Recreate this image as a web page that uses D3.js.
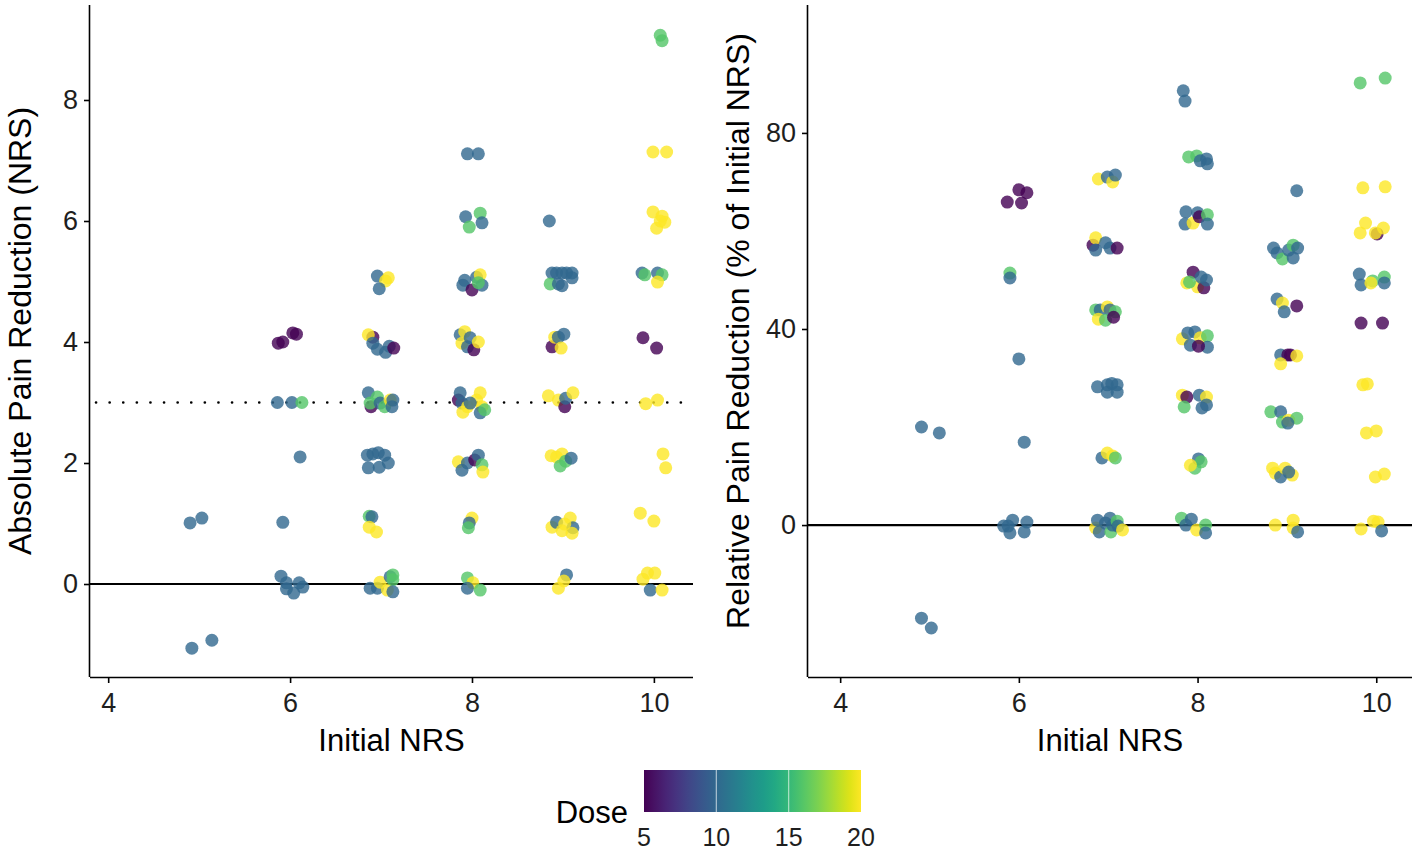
<!DOCTYPE html>
<html>
<head>
<meta charset="utf-8">
<script src="https://cdn.jsdelivr.net/npm/d3@7"></script>
<style>
  body { margin: 0; background: #fff; }
  svg { display: block; font-family: "Liberation Sans", Arial, sans-serif; }
  .tick text { fill: #1e1e1e; font-size: 27px; }
  .axis path, .axis line { stroke: #000; stroke-width: 1.6; }
  .title { font-size: 31px; fill: #000; }
  .ytitle { font-size: 32px; fill: #000; }
</style>
</head>
<body>
<div id="chart"></div>
<script>
// Values: [initial NRS (jittered), value (jittered), dose]
const absPoints = [
  [4.90, 1.01, 10], [5.03, 1.09, 10], [4.92, -1.06, 10], [5.14, -0.93, 10],
  [5.87, 3.98, 5], [5.92, 4.00, 5], [6.03, 4.15, 5], [6.07, 4.13, 5],
  [5.86, 3.00, 10], [6.02, 3.00, 10], [6.13, 3.00, 16],
  [6.11, 2.10, 10], [5.92, 1.02, 10],
  [5.90, 0.13, 10], [5.96, 0.02, 10], [5.96, -0.08, 10], [6.04, -0.15, 10], [6.10, 0.02, 10], [6.14, -0.05, 10],
  [6.96, 5.09, 10], [7.05, 5.01, 20], [7.08, 5.06, 20], [6.98, 4.88, 10],
  [6.91, 4.08, 5], [6.86, 4.12, 20], [6.91, 3.98, 10], [6.96, 3.88, 10], [7.05, 3.83, 10], [7.09, 3.93, 10], [7.14, 3.90, 5],
  [6.89, 2.93, 5], [6.86, 3.16, 10], [6.88, 2.99, 16], [6.96, 3.09, 16], [6.99, 2.99, 10], [7.04, 2.93, 16], [7.10, 3.04, 20], [7.12, 2.93, 10], [7.13, 3.04, 10],
  [6.85, 2.13, 10], [6.91, 2.15, 10], [6.97, 2.17, 10], [7.04, 2.13, 10], [6.86, 1.92, 10], [6.98, 1.93, 10], [7.08, 2.00, 10],
  [6.87, 1.12, 16], [6.90, 1.11, 10], [6.87, 0.94, 20], [6.95, 0.86, 20],
  [6.88, -0.07, 10], [6.96, -0.07, 10], [6.99, 0.03, 20], [7.07, -0.10, 20], [7.10, 0.12, 10], [7.13, 0.15, 16], [7.13, 0.07, 16], [7.13, -0.13, 10],
  [7.95, 7.11, 10], [8.07, 7.11, 10],
  [7.93, 6.07, 10], [7.97, 5.90, 16], [8.09, 6.13, 16], [8.11, 5.97, 10],
  [7.90, 4.94, 10], [7.92, 5.02, 10], [8.00, 4.86, 5], [8.05, 5.07, 10], [8.09, 5.11, 20], [8.11, 4.94, 10], [8.07, 4.98, 16],
  [7.87, 4.12, 10], [7.92, 4.17, 20], [7.89, 3.98, 20], [7.95, 3.92, 10], [7.98, 4.07, 10], [8.02, 3.87, 5], [8.07, 4.00, 20],
  [7.85, 3.04, 5], [7.87, 3.16, 10], [7.89, 2.99, 10], [7.95, 2.93, 20], [7.90, 2.84, 20], [8.09, 3.16, 20], [8.05, 3.04, 20], [8.11, 2.93, 20], [8.09, 2.83, 10], [8.14, 2.88, 16], [7.98, 2.99, 10],
  [7.85, 2.02, 20], [7.89, 1.88, 10], [7.95, 2.00, 10], [8.03, 2.05, 5], [8.07, 2.13, 10], [8.11, 1.97, 16], [8.12, 1.85, 20],
  [8.00, 1.09, 20], [7.97, 1.01, 10], [7.96, 0.93, 16],
  [7.95, 0.10, 16], [8.01, 0.02, 20], [7.95, -0.07, 10], [8.09, -0.10, 16],
  [8.85, 6.00, 10],
  [8.88, 5.14, 10], [8.93, 5.14, 10], [8.99, 5.14, 10], [9.04, 5.14, 10], [9.10, 5.14, 10], [8.86, 4.96, 16], [8.95, 4.96, 10], [8.99, 4.93, 10], [9.10, 5.06, 10],
  [8.88, 3.92, 5], [8.91, 4.08, 20], [8.95, 4.08, 10], [8.98, 3.90, 20], [9.01, 4.13, 10],
  [8.84, 3.11, 20], [8.95, 3.04, 20], [9.02, 2.93, 5], [9.03, 3.07, 10], [9.11, 3.16, 20],
  [8.87, 2.12, 20], [8.93, 2.10, 20], [8.99, 2.15, 20], [8.97, 1.95, 16], [9.03, 2.03, 16], [9.09, 2.08, 10],
  [8.88, 0.94, 20], [8.93, 1.02, 10], [8.99, 0.88, 20], [9.08, 1.09, 20], [9.11, 0.93, 10], [9.10, 0.84, 20], [9.02, 0.99, 20],
  [9.04, 0.15, 10], [9.01, 0.05, 20], [8.95, -0.07, 20],
  [10.07, 9.07, 16], [10.09, 8.98, 16],
  [9.99, 7.14, 20], [10.14, 7.14, 20],
  [9.99, 6.15, 20], [10.09, 6.08, 20], [10.12, 5.98, 20], [10.03, 5.88, 20], [10.07, 6.00, 20],
  [9.87, 5.14, 10], [9.90, 5.11, 16], [10.04, 5.14, 10], [10.09, 5.11, 16], [10.04, 4.99, 20],
  [9.88, 4.07, 5], [10.03, 3.90, 5],
  [9.91, 2.98, 20], [10.04, 3.04, 20],
  [10.10, 2.15, 20], [10.13, 1.92, 20],
  [9.85, 1.17, 20], [10.00, 1.04, 20],
  [9.96, -0.10, 10], [9.88, 0.08, 20], [9.93, 0.18, 20], [10.01, 0.18, 20], [10.09, -0.10, 20]
];

const relPoints = [
  [4.91, 20.0, 10], [5.11, 18.8, 10], [4.91, -19.0, 10], [5.02, -21.0, 10],
  [6.00, 68.4, 5], [6.09, 67.8, 5], [5.87, 65.9, 5], [6.03, 65.7, 5],
  [5.90, 51.4, 16], [5.90, 50.4, 10], [6.00, 33.9, 10], [6.06, 16.9, 10],
  [5.83, -0.2, 10], [5.93, 1.0, 10], [5.90, -1.6, 10], [6.09, 0.6, 10], [6.06, -1.4, 10], [5.88, -0.2, 10],
  [6.89, 70.6, 20], [6.99, 71.0, 10], [7.05, 70.0, 20], [7.08, 71.4, 10],
  [6.83, 57.1, 5], [6.86, 58.6, 20], [6.86, 56.1, 10], [6.97, 57.6, 10], [7.02, 56.5, 10], [7.10, 56.5, 5],
  [6.86, 43.9, 16], [6.91, 43.9, 10], [6.99, 44.5, 20], [7.02, 43.9, 10], [7.08, 43.5, 16], [6.89, 42.0, 20], [6.97, 41.8, 16], [7.06, 42.4, 5],
  [6.88, 28.2, 10], [6.99, 28.6, 10], [7.10, 28.6, 10], [6.99, 27.1, 10], [7.10, 27.1, 10], [7.04, 28.9, 10],
  [6.93, 13.7, 10], [6.99, 14.7, 20], [7.05, 14.1, 20], [7.08, 13.7, 16],
  [6.86, -0.6, 20], [6.88, 1.0, 10], [6.90, -1.4, 10], [6.97, 0.4, 10], [7.02, 1.4, 10], [7.03, -1.4, 16], [7.05, 0.0, 10], [7.10, 0.8, 16], [7.11, -0.2, 10], [7.16, -1.0, 20],
  [7.84, 88.6, 10], [7.86, 86.5, 10],
  [7.90, 75.1, 16], [7.99, 75.3, 16], [8.03, 74.3, 10], [8.10, 74.7, 10], [8.11, 73.7, 10],
  [7.87, 63.9, 10], [7.86, 61.4, 10], [7.95, 61.6, 20], [8.00, 63.7, 10], [8.02, 62.9, 5], [8.11, 63.3, 16], [8.11, 61.4, 10],
  [7.95, 51.6, 5], [7.88, 49.4, 20], [8.00, 48.6, 20], [8.07, 48.4, 5], [8.10, 50.0, 10], [7.91, 49.6, 16], [8.04, 50.6, 10],
  [7.83, 38.0, 20], [7.89, 39.2, 10], [7.97, 39.4, 10], [8.03, 38.2, 20], [8.11, 38.6, 16], [8.11, 36.3, 10], [7.92, 36.7, 10], [8.01, 36.5, 5],
  [7.83, 26.5, 20], [7.88, 26.1, 5], [8.02, 26.5, 10], [8.10, 26.1, 20], [7.85, 24.1, 16], [8.10, 24.5, 10], [8.05, 23.9, 10],
  [7.97, 11.6, 16], [8.01, 13.5, 10], [8.04, 12.9, 16], [7.92, 12.2, 20],
  [7.82, 1.4, 16], [7.93, 1.2, 10], [7.87, 0.0, 10], [7.99, -1.0, 20], [8.09, 0.0, 16], [8.09, -1.6, 10],
  [9.11, 68.2, 10],
  [8.85, 56.5, 10], [8.89, 55.5, 10], [8.95, 54.3, 16], [9.02, 56.1, 10], [9.07, 57.1, 16], [9.12, 56.5, 10], [9.07, 54.5, 10],
  [8.89, 46.1, 10], [8.95, 45.3, 20], [8.97, 43.5, 10], [9.11, 44.7, 5],
  [8.93, 34.7, 10], [9.01, 34.7, 5], [9.04, 34.7, 5], [9.11, 34.5, 20], [8.93, 32.9, 20],
  [8.82, 23.1, 16], [8.93, 23.1, 10], [8.95, 21.0, 16], [9.02, 21.4, 20], [9.11, 21.8, 16], [9.01, 20.8, 10],
  [8.84, 11.6, 20], [8.87, 10.6, 20], [8.93, 9.8, 10], [8.98, 11.6, 20], [9.06, 10.2, 20], [9.02, 10.8, 10],
  [8.87, 0.0, 20], [9.07, 1.0, 20], [9.07, -0.6, 20], [9.12, -1.4, 10],
  [9.82, 90.2, 16], [10.10, 91.2, 16],
  [9.85, 68.8, 20], [10.10, 69.0, 20],
  [10.01, 59.4, 5], [9.88, 61.6, 20], [9.82, 59.6, 20], [10.08, 60.6, 20], [9.99, 59.6, 20],
  [9.81, 51.2, 10], [9.83, 49.0, 10], [9.96, 49.8, 16], [10.09, 50.6, 16], [10.09, 49.4, 10], [9.94, 49.4, 20],
  [9.83, 41.2, 5], [10.07, 41.2, 5],
  [9.85, 28.6, 20], [9.90, 28.8, 20],
  [9.89, 18.8, 20], [10.00, 19.2, 20],
  [9.99, 9.8, 20], [10.09, 10.4, 20],
  [9.83, -0.8, 20], [9.97, 0.8, 20], [10.02, 0.6, 20], [10.06, -1.2, 10]
];

const xTicks = [4, 6, 8, 10];
const absTicks = [0, 2, 4, 6, 8];
const relTicks = [0, 40, 80];
const doseTicks = [5, 10, 15, 20];

const W = 1418, H = 850;
const svg = d3.select("#chart").append("svg").attr("width", W).attr("height", H);

const color = d3.scaleSequential(d3.interpolateViridis).domain([5, 20]);

function panel({ points, xDomain, yDomain, left, right, yTicks, yTitle, dotted }) {
  const top = 5, bottom = 677;
  const x = d3.scaleLinear().domain(xDomain).range([left, right]);
  const y = d3.scaleLinear().domain(yDomain).range([bottom, top]);
  const g = svg.append("g");

  // Reference lines
  g.append("line")
    .attr("x1", left).attr("x2", right)
    .attr("y1", y(0)).attr("y2", y(0))
    .attr("stroke", "#000").attr("stroke-width", 2.2);
  if (dotted != null) {
    g.append("line")
      .attr("x1", left + 6).attr("x2", right)
      .attr("y1", y(dotted)).attr("y2", y(dotted))
      .attr("stroke", "#000").attr("stroke-width", 2.6)
      .attr("stroke-linecap", "round")
      .attr("stroke-dasharray", "0.1 13.5");
  }

  // Points
  g.append("g")
    .selectAll("circle")
    .data(points)
    .join("circle")
    .attr("cx", (d) => x(d[0]))
    .attr("cy", (d) => y(d[1]))
    .attr("r", 6.5)
    .attr("fill", (d) => color(d[2]))
    .attr("fill-opacity", 0.8);

  // Axes
  g.append("g")
    .attr("class", "axis")
    .attr("transform", `translate(0,${bottom})`)
    .call(d3.axisBottom(x).tickValues(xTicks).tickFormat(d3.format("d")).tickSize(6).tickPadding(10).tickSizeOuter(0))
    .call((s) => s.select(".domain").attr("d", `M${left},0.5H${right}`));
  g.append("g")
    .attr("class", "axis")
    .attr("transform", `translate(${left},0)`)
    .call(d3.axisLeft(y).tickValues(yTicks).tickFormat(d3.format("d")).tickSize(6).tickPadding(6).tickSizeOuter(0))
    .call((s) => s.select(".domain").attr("d", `M-0.5,${top}V${bottom}`));
  svg.selectAll(".axis text").attr("font-family", null).attr("font-size", null);

  g.append("text")
    .attr("class", "title")
    .attr("x", (left + right) / 2)
    .attr("y", 751)
    .attr("text-anchor", "middle")
    .text("Initial NRS");
  g.append("text")
    .attr("class", "ytitle")
    .attr("transform", `translate(${left - 59},331) rotate(-90)`)
    .attr("text-anchor", "middle")
    .text(yTitle);
}

panel({
  points: absPoints,
  xDomain: [3.8, 10.43],
  yDomain: [-1.537, 9.57],
  left: 90,
  right: 693,
  yTicks: absTicks,
  yTitle: "Absolute Pain Reduction (NRS)",
  dotted: 3,
});

panel({
  points: relPoints,
  xDomain: [3.64, 10.4],
  yDomain: [-31.0, 106.1],
  left: 808,
  right: 1412,
  yTicks: relTicks,
  yTitle: "Relative Pain Reduction (% of Initial NRS)",
});

// Colour bar legend
const legX = d3.scaleLinear().domain([5, 20]).range([644, 861]);
const defs = svg.append("defs");
const grad = defs.append("linearGradient").attr("id", "viridis");
d3.range(0, 1.0001, 0.05).forEach((t) => {
  grad.append("stop").attr("offset", t).attr("stop-color", d3.interpolateViridis(t));
});
const leg = svg.append("g");
leg.append("rect")
  .attr("x", legX(5)).attr("y", 770)
  .attr("width", legX(20) - legX(5)).attr("height", 42)
  .attr("fill", "url(#viridis)");
leg.selectAll(".cb-tick")
  .data(doseTicks.slice(1, -1))
  .join("line")
  .attr("x1", (d) => legX(d)).attr("x2", (d) => legX(d))
  .attr("y1", 770).attr("y2", 812)
  .attr("stroke", "#fff").attr("stroke-opacity", 0.6).attr("stroke-width", 1.2);
leg.selectAll(".cb-label")
  .data(doseTicks)
  .join("text")
  .attr("x", (d) => legX(d))
  .attr("y", 846)
  .attr("text-anchor", "middle")
  .attr("font-size", 25)
  .attr("fill", "#1e1e1e")
  .text((d) => d);
leg.append("text")
  .attr("class", "title")
  .attr("x", 628)
  .attr("y", 823)
  .attr("text-anchor", "end")
  .text("Dose");
</script>
</body>
</html>
